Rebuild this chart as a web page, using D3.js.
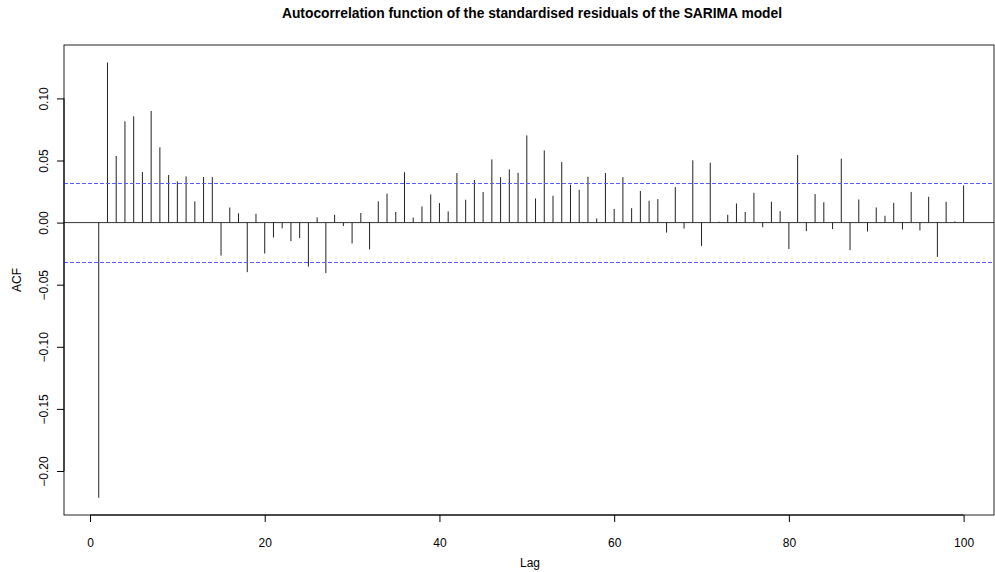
<!DOCTYPE html>
<html>
<head>
<meta charset="utf-8">
<script src="https://cdn.jsdelivr.net/npm/d3@7"></script>
<style>
  html, body { margin: 0; padding: 0; background: #fff; }
  svg { display: block; font-family: "Liberation Sans", Arial, Helvetica, sans-serif; }
</style>
</head>
<body>
<svg id="chart" width="995" height="572"></svg>
<script>
// Lags 1..100 of the residual ACF
const lags = d3.range(1, 101);
const acfValues = [
  -0.2216, 0.1289, 0.0536, 0.0816, 0.0856, 0.0407, 0.0899, 0.0606, 0.0383, 0.0332,
   0.0372, 0.0171, 0.0367, 0.0367, -0.0265, 0.0121, 0.0074, -0.0399, 0.0071, -0.0249,
  -0.0120, -0.0047, -0.0149, -0.0125, -0.0354, 0.0042, -0.0407, 0.0063, -0.0028, -0.0168,
   0.0077, -0.0216, 0.0171, 0.0233, 0.0085, 0.0406, 0.0041, 0.0130, 0.0227, 0.0157,
   0.0090, 0.0399, 0.0184, 0.0343, 0.0246, 0.0509, 0.0366, 0.0428, 0.0401, 0.0702,
   0.0194, 0.0581, 0.0216, 0.0488, 0.0305, 0.0264, 0.0369, 0.0033, 0.0399, 0.0110,
   0.0366, 0.0116, 0.0254, 0.0176, 0.0189, -0.0080, 0.0286, -0.0048, 0.0501, -0.0187,
   0.0482, 0.0007, 0.0063, 0.0154, 0.0085, 0.0240, -0.0037, 0.0168, 0.0092, -0.0212,
   0.0544, -0.0069, 0.0230, 0.0164, -0.0052, 0.0515, -0.0222, 0.0186, -0.0072, 0.0122,
   0.0055, 0.0159, -0.0055, 0.0247, -0.0063, 0.0208, -0.0276, 0.0168, 0.0010, 0.0300
];
const confBound = 0.0315;
const xTicks = [0, 20, 40, 60, 80, 100];
const yTicks = [-0.20, -0.15, -0.10, -0.05, 0.00, 0.05, 0.10];

const titleText = "Autocorrelation function of the standardised residuals of the SARIMA model";
const xLabel = "Lag";
const yLabel = "ACF";

const svg = d3.select("#chart");
const box = { left: 64, right: 994, top: 45, bottom: 515 };

const x = d3.scaleLinear().domain([0, 100]).range([90, 963.6]);
const y = d3.scaleLinear().domain([0, 0.1]).range([222.6, 98.4]);

// plot frame
svg.append("rect")
  .attr("x", box.left).attr("y", box.top)
  .attr("width", box.right - box.left).attr("height", box.bottom - box.top)
  .attr("fill", "none").attr("stroke", "#222").attr("stroke-width", 1);

// zero line
svg.append("line")
  .attr("x1", box.left).attr("x2", box.right)
  .attr("y1", y(0)).attr("y2", y(0))
  .attr("stroke", "#333").attr("stroke-width", 1);

// ACF spikes
svg.append("g").selectAll("line")
  .data(lags.map((l, i) => ({ lag: l, v: acfValues[i] })))
  .join("line")
  .attr("x1", d => x(d.lag)).attr("x2", d => x(d.lag))
  .attr("y1", y(0)).attr("y2", d => y(d.v))
  .attr("stroke", "#222").attr("stroke-width", 1);

// confidence bounds, drawn over the spikes
svg.append("g").selectAll("line")
  .data([confBound, -confBound])
  .join("line")
  .attr("x1", box.left).attr("x2", box.right)
  .attr("y1", d => Math.round(y(d)) + 0.5).attr("y2", d => Math.round(y(d)) + 0.5)
  .attr("stroke", "#5c5cff").attr("stroke-width", 1.2)
  .attr("stroke-dasharray", "4,2");

// bottom axis
const xAxis = d3.axisBottom(x).tickValues(xTicks).tickSize(7).tickPadding(16)
  .tickFormat(d3.format("d"));
const gx = svg.append("g").attr("transform", `translate(0,${box.bottom})`).call(xAxis);
gx.select(".domain").attr("d", `M${x(0)},0H${x(100)}`).attr("stroke", "#000");
gx.selectAll("text").attr("font-size", 12).attr("fill", "#000");

// left axis with rotated labels
const yAxis = d3.axisLeft(y).tickValues(yTicks).tickSize(7).tickFormat(d3.format(".2f"));
const gy = svg.append("g").attr("transform", `translate(${box.left},0)`).call(yAxis);
gy.select(".domain").attr("d", `M0,${y(-0.2)}V${y(0.1)}`).attr("stroke", "#000");
gy.selectAll(".tick text")
  .attr("font-size", 12).attr("fill", "#000")
  .attr("x", null).attr("dy", null)
  .attr("text-anchor", "middle")
  .attr("transform", "translate(-16,0) rotate(-90)");

// titles
svg.append("text")
  .attr("x", 532).attr("y", 18)
  .attr("text-anchor", "middle")
  .attr("font-size", 13.8).attr("font-weight", "bold")
  .text(titleText);

svg.append("text")
  .attr("x", 530).attr("y", 567)
  .attr("text-anchor", "middle").attr("font-size", 12)
  .text(xLabel);

svg.append("text")
  .attr("transform", "translate(21,280) rotate(-90)")
  .attr("text-anchor", "middle").attr("font-size", 12)
  .text(yLabel);
</script>
</body>
</html>
